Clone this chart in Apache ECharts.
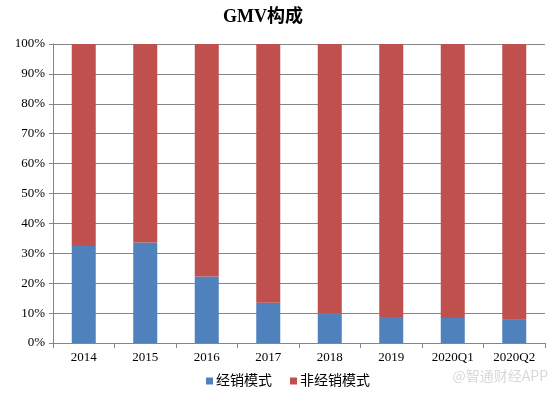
<!DOCTYPE html>
<html><head><meta charset="utf-8">
<script src="https://cdn.jsdelivr.net/npm/echarts@6/dist/echarts.min.js"></script>
<style>html,body{margin:0;padding:0;background:#fff}#c{width:554px;height:397px}</style>
</head><body><div id="c"></div>
<script>
var categories = ['2014','2015','2016','2017','2018','2019','2020Q1','2020Q2'];
var distribution = [32.4, 33.6, 22.2, 13.5, 10.0, 8.7, 8.4, 8.0];
var nonDistribution = [67.6, 66.4, 77.8, 86.5, 90.0, 91.3, 91.6, 92.0];
var seriesNames = ['经销模式', '非经销模式'];
var serif = '"Liberation Serif","DejaVu Serif","Noto Sans CJK SC",serif';
var chart = echarts.init(document.getElementById('c'));
chart.setOption({
  animation: false,
  title: {text: 'GMV构成', left: 218, top: 3,
    textStyle: {fontFamily: serif, fontWeight: 'bold', fontSize: 18, color: '#000'}},
  legend: {bottom: 4, left: 201, itemWidth: 7, itemHeight: 7, itemGap: 18, icon: 'rect',
    textStyle: {fontFamily: serif, fontSize: 14, color: '#000', padding: [0, 0, 0, -2]},
    data: seriesNames},
  grid: {left: 53, right: 9, top: 44, bottom: 54},
  xAxis: {type: 'category', data: categories,
    axisLine: {lineStyle: {color: '#868686'}},
    axisTick: {show: true, length: 5, lineStyle: {color: '#868686'}},
    axisLabel: {fontFamily: serif, fontSize: 13, color: '#000', margin: 8}},
  yAxis: {type: 'value', min: 0, max: 100, interval: 10,
    axisLine: {show: true, lineStyle: {color: '#868686'}},
    axisTick: {show: true, length: 4, lineStyle: {color: '#868686'}},
    splitLine: {lineStyle: {color: '#868686'}},
    axisLabel: {fontFamily: serif, fontSize: 13, color: '#000', formatter: '{value}%', margin: 8}},
  series: [
    {name: seriesNames[0], type: 'bar', stack: 's', barWidth: 24, data: distribution,
     itemStyle: {color: '#4F81BD'}},
    {name: seriesNames[1], type: 'bar', stack: 's', barWidth: 24, data: nonDistribution,
     itemStyle: {color: '#C0504D'}}
  ],
  graphic: [{type: 'text', right: 6, bottom: 14,
    style: {text: '@智通财经APP', fontSize: 14, fill: '#d8d8d8', fontFamily: '"Noto Sans CJK SC",sans-serif'}}]
});
</script></body></html>
